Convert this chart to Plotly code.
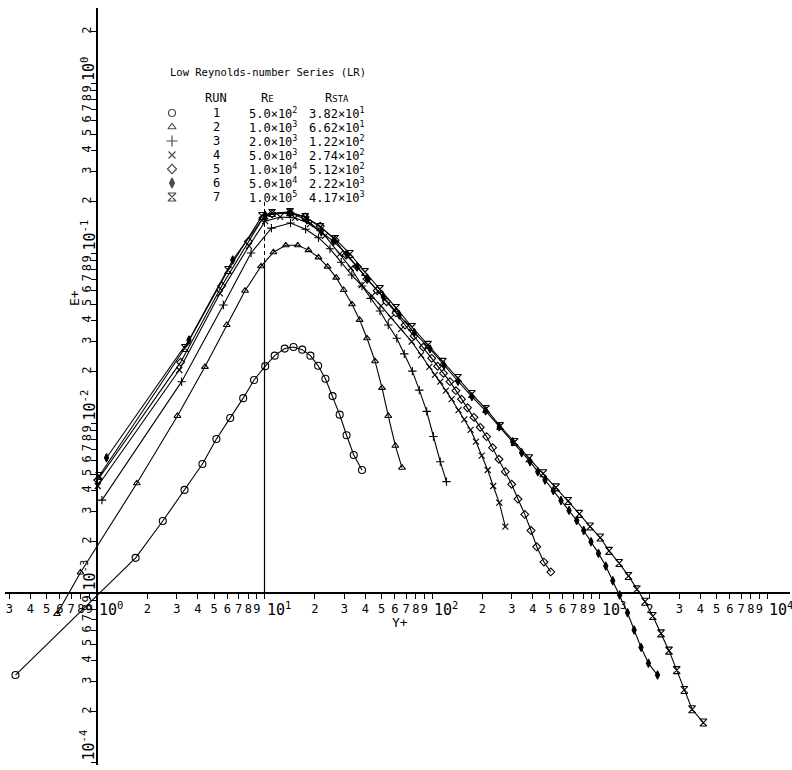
import plotly.graph_objects as go

# ---------------- data ----------------
RUNS = [1, 2, 3, 4, 5, 6, 7]
RE_TEXT = ["5.0×10<sup>2</sup>", "1.0×10<sup>3</sup>", "2.0×10<sup>3</sup>", "5.0×10<sup>3</sup>",
           "1.0×10<sup>4</sup>", "5.0×10<sup>4</sup>", "1.0×10<sup>5</sup>"]
RSTA_TEXT = ["3.82×10<sup>1</sup>", "6.62×10<sup>1</sup>", "1.22×10<sup>2</sup>", "2.74×10<sup>2</sup>",
             "5.12×10<sup>2</sup>", "2.22×10<sup>3</sup>", "4.17×10<sup>3</sup>"]

y1 = [0.326, 1.70, 2.47, 3.33, 4.26, 5.16, 6.24, 7.46, 8.66, 10.1, 11.5, 13.2, 14.9, 16.8, 18.8,
      20.9, 23.1, 25.5, 28.1, 30.9, 34.1, 38.2]
e1 = [3.29e-4, 1.61e-3, 2.65e-3, 4.04e-3, 5.74e-3, 8.05e-3, 1.07e-2, 1.40e-2, 1.79e-2, 2.16e-2,
      2.49e-2, 2.74e-2, 2.80e-2, 2.70e-2, 2.49e-2, 2.17e-2, 1.82e-2, 1.44e-2, 1.12e-2, 8.47e-3,
      6.48e-3, 5.29e-3]

y2 = [0.577, 0.797, 1.73, 3.02, 4.41, 5.95, 7.65, 9.53, 11.3, 13.4, 15.8, 18.3, 21.0, 23.8, 26.8,
      29.7, 33.3, 37.0, 40.9, 45.7, 50.3, 54.8, 60.4, 66.2]
e2 = [7.52e-4, 1.32e-3, 4.42e-3, 1.10e-2, 2.14e-2, 3.77e-2, 6.00e-2, 8.35e-2, 0.101, 0.111,
      0.111, 0.104, 0.0943, 0.0831, 0.0716, 0.0606, 0.0499, 0.0404, 0.0315, 0.0231,
      0.0161, 0.0110, 7.35e-3, 5.46e-3]

y3 = [1.07, 3.20, 5.68, 8.31, 11.0, 14.3, 17.6, 21.0, 24.6, 28.7, 33.2, 38.2, 43.1, 48.9, 54.8,
      61.6, 68.3, 76.3, 84.0, 93.0, 102, 112, 122]
e3 = [3.52e-3, 1.75e-2, 4.94e-2, 0.100, 0.140, 0.150, 0.138, 0.123, 0.106, 0.0882,
      0.0742, 0.0640, 0.0541, 0.0456, 0.0377, 0.0315, 0.0255, 0.0202, 0.0156, 0.0117,
      8.33e-3, 5.92e-3, 4.52e-3]

y4 = [1.01, 3.10, 5.42, 8.08, 10.1, 12.4, 15.2, 18.7, 23.0, 28.2, 32.8, 38.0, 43.8, 49.6, 56.9,
      65.3, 75.6, 86.0, 96.4, 104, 112, 121, 131, 144, 156, 170, 183, 198, 215, 232, 252, 274]
e4 = [4.26e-3, 2.05e-2, 5.79e-2, 0.110, 0.154, 0.163, 0.161, 0.148, 0.126, 0.0987,
      0.0816, 0.0648, 0.0559, 0.0488, 0.0417, 0.0357, 0.0301, 0.0251, 0.0214, 0.0192,
      0.0175, 0.0155, 0.0138, 0.0119, 0.0105, 9.10e-3, 7.76e-3, 6.42e-3, 5.29e-3, 4.26e-3,
      3.40e-3, 2.46e-3]

y5 = [1.01, 3.16, 5.55, 8.01, 9.80, 11.1, 14.2, 17.5, 21.5, 26.4, 30.7, 35.8, 40.9, 47.1, 53.6,
      61.0, 69.0, 78.1, 88.7, 99.6, 108, 117, 128, 139, 150, 163, 178, 194, 212, 230, 251, 274,
      299, 326, 358, 390, 422, 466, 512]
e5 = [4.62e-3, 2.28e-2, 6.40e-2, 0.117, 0.161, 0.170, 0.172, 0.163, 0.144, 0.119,
      0.0973, 0.0831, 0.0703, 0.0600, 0.0517, 0.0444, 0.0377, 0.0325, 0.0279, 0.0240,
      0.0216, 0.0196, 0.0175, 0.0155, 0.0138, 0.0123, 0.0108, 9.43e-3, 8.31e-3, 7.16e-3,
      6.12e-3, 5.17e-3, 4.36e-3, 3.57e-3, 2.90e-3, 2.33e-3, 1.87e-3, 1.52e-3, 1.33e-3]

y6 = [1.14, 3.54, 6.46, 10.1, 14.2, 17.9, 21.8, 25.8, 31.0, 35.7, 41.1, 51.2, 63.8, 78.4, 97.3,
      118, 143, 173, 209, 252, 303, 343, 385, 428, 473, 530, 589, 658, 731, 805, 890, 986, 1090,
      1200, 1320, 1470, 1610, 1770, 1960, 2220]
e6 = [6.25e-3, 3.08e-2, 9.10e-2, 0.167, 0.173, 0.156, 0.133, 0.117, 0.0984, 0.0827,
      0.0703, 0.0553, 0.0432, 0.0340, 0.0273, 0.0218, 0.0176, 0.0143, 0.0118, 9.51e-3,
      7.76e-3, 6.69e-3, 5.92e-3, 5.17e-3, 4.62e-3, 4.00e-3, 3.50e-3, 3.06e-3, 2.67e-3, 2.33e-3,
      2.00e-3, 1.71e-3, 1.44e-3, 1.18e-3, 9.73e-4, 7.66e-4, 6.06e-4, 4.79e-4, 3.86e-4, 3.29e-4]

y7 = [1.03, 3.35, 6.06, 9.66, 11.1, 14.2, 17.5, 21.5, 26.4, 32.4, 39.8, 48.9, 61.0, 76.0, 94.7,
      116, 143, 173, 210, 255, 311, 381, 462, 550, 651, 758, 878, 1010, 1140, 1310, 1490, 1670,
      1870, 2080, 2330, 2600, 2890, 3210, 3570, 4170]
e7 = [4.88e-3, 2.76e-2, 7.94e-2, 0.165, 0.172, 0.174, 0.163, 0.142, 0.121, 0.0987,
      0.0773, 0.0614, 0.0475, 0.0367, 0.0288, 0.0229, 0.0184, 0.0148, 0.0121, 9.60e-3,
      7.73e-3, 6.20e-3, 5.06e-3, 4.18e-3, 3.48e-3, 2.92e-3, 2.46e-3, 2.12e-3, 1.77e-3, 1.50e-3,
      1.26e-3, 1.05e-3, 8.89e-4, 7.32e-4, 5.79e-4, 4.58e-4, 3.52e-4, 2.69e-4, 2.07e-4, 1.73e-4]

Y_RUNS = [y1, y2, y3, y4, y5, y6, y7]
E_RUNS = [e1, e2, e3, e4, e5, e6, e7]

# reference line at Y+ = 10
REF_Y = 10
REF_SOLID = [1e-3, 0.0886]
REF_DASH = [0.0886, 0.2]

# tick values
X_DECADES = [-1, 0, 1, 2, 3]
X_MIN_TICK = 0.3
Y_DECADES = [-4, -3, -2, -1, 0]
Y_MAX_TICK = 2.0

# ---------------- styling ----------------
W, H = 792, 770
FONT = "DejaVu Sans Mono"
SYMBOLS = ['circle-open', 'triangle-up-open', 'cross-thin-open', 'x-thin-open',
           'diamond-open', 'diamond-tall', 'hourglass-open']
SIZES = [7, 6, 6, 6, 6, 6, 7]

X_DOM = [5 / W, 790 / W]
Y_DOM = [(H - 765) / H, (H - 8) / H]
X_RANGE = [-0.5493, 4.1373]
Y_RANGE = [-4.0118, 0.4412]
X_AXIS_POS = (H - 593) / H
Y_AXIS_POS = 97 / W

fig = go.Figure()

for i, run in enumerate(RUNS):
    fig.add_trace(go.Scatter(
        x=Y_RUNS[i], y=E_RUNS[i], mode='lines+markers', showlegend=False,
        line=dict(color='black', width=1.1),
        marker=dict(symbol=SYMBOLS[i], size=SIZES[i], color='black',
                    line=dict(color='black', width=1.1)),
    ))

fig.add_trace(go.Scatter(x=[REF_Y, REF_Y], y=REF_SOLID, mode='lines', showlegend=False,
                         line=dict(color='black', width=1.2)))
fig.add_trace(go.Scatter(x=[REF_Y, REF_Y], y=REF_DASH, mode='lines', showlegend=False,
                         line=dict(color='black', width=1, dash='4px,3px')))

# legend glyphs on an auxiliary (hidden) subplot whose y units are run numbers
ROW0_PX, ROW_STEP = 113, 14.0
LEG_SYM_X, LEG_RUN_X, LEG_RE_X, LEG_RSTA_X = 172, 216, 273, 337
fig.add_trace(go.Scatter(
    x=[LEG_SYM_X] * len(RUNS), y=RUNS, mode='markers', showlegend=False,
    xaxis='x2', yaxis='y2',
    marker=dict(symbol=SYMBOLS, size=[7, 7, 8, 7, 7, 7, 8], color='black',
                line=dict(color='black', width=1.2)),
))

# ticks
xtv, xtt = [], []
for d in X_DECADES:
    for m in range(1, 10):
        v = m * 10.0 ** d
        if v < X_MIN_TICK - 1e-9:
            continue
        xtv.append(v)
        xtt.append("" if m == 1 else str(m))
xtv.append(1e4)
xtt.append("")

ytv, ytt = [], []
for d in Y_DECADES:
    for m in range(1, 10):
        v = m * 10.0 ** d
        if v > Y_MAX_TICK + 1e-9:
            continue
        ytv.append(v)
        ytt.append("" if m == 1 else str(m))

fig.update_layout(
    width=W, height=H, margin=dict(l=0, r=0, t=0, b=0),
    paper_bgcolor='white', plot_bgcolor='rgba(0,0,0,0)',
    font=dict(family=FONT, color='black', size=12),
    showlegend=False,
    xaxis=dict(type='log', range=X_RANGE, domain=X_DOM, anchor='free', position=X_AXIS_POS,
               showline=True, linecolor='black', linewidth=1.5, ticks='outside', ticklen=5,
               tickwidth=1, tickcolor='black', tickvals=xtv, ticktext=xtt, tickangle=0,
               tickfont=dict(family=FONT, size=12), showgrid=False, zeroline=False),
    yaxis=dict(type='log', range=Y_RANGE, domain=Y_DOM, anchor='free', position=Y_AXIS_POS,
               showline=True, linecolor='black', linewidth=1.5, ticks='outside', ticklen=5,
               tickwidth=1, tickcolor='black', tickvals=ytv, ticktext=ytt, tickangle=-90,
               ticklabelstandoff=-5,
               tickfont=dict(family=FONT, size=12), showgrid=False, zeroline=False),
    xaxis2=dict(range=[0, W], domain=[0, 1], anchor='y2', visible=False, fixedrange=True),
    yaxis2=dict(range=[1 + (H - ROW0_PX) / ROW_STEP, 1 - ROW0_PX / ROW_STEP], domain=[0, 1],
                anchor='x2', visible=False, fixedrange=True),
)

ann = []
for d in [0, 1, 2, 3, 4]:
    ann.append(dict(x=d, y=X_AXIS_POS, xref='x', yref='paper', text=f"10<sup>{d}</sup>",
                    showarrow=False, xanchor='left', yanchor='top', xshift=0, yshift=-4,
                    font=dict(size=15, family=FONT)))
for d in Y_DECADES:
    ann.append(dict(x=Y_AXIS_POS, y=d, xref='paper', yref='y', text=f"10<sup>{d}</sup>",
                    showarrow=False, xanchor='center', yanchor='bottom', xshift=-9, yshift=0,
                    textangle=-90, font=dict(size=15, family=FONT)))

ann.append(dict(x=400 / W, y=(H - 622) / H, xref='paper', yref='paper', text="Y+",
                xanchor='center', yanchor='middle',
                showarrow=False, font=dict(size=13, family=FONT)))
ann.append(dict(x=74 / W, y=(H - 298) / H, xref='paper', yref='paper', text="E+",
                xanchor='center', yanchor='middle',
                showarrow=False, textangle=-90, font=dict(size=13, family=FONT)))

ann.append(dict(x=168 / W, y=(H - 72) / H, xref='paper', yref='paper',
                text="Low Reynolds-number Series (LR)", showarrow=False,
                xanchor='left', yanchor='middle',
                font=dict(size=10.5, family=FONT)))
SMALL = "<span style='font-size:9px'>{}</span>"
for xx, t in [(LEG_RUN_X, "RUN"), (LEG_RE_X - 6, "R" + SMALL.format("E")),
              (LEG_RSTA_X, "R" + SMALL.format("STA"))]:
    ann.append(dict(x=xx, y=RUNS[0] - 1.1, xref='x2', yref='y2', text=t, showarrow=False,
                    xanchor='center', yanchor='middle', font=dict(size=12, family=FONT)))
for i, run in enumerate(RUNS):
    ann.append(dict(x=LEG_RUN_X, y=run, xref='x2', yref='y2', text=str(run), showarrow=False,
                    xanchor='center', yanchor='middle', font=dict(size=12, family=FONT)))
    ann.append(dict(x=LEG_RE_X, y=run, xref='x2', yref='y2', text=RE_TEXT[i], showarrow=False,
                    xanchor='center', yanchor='middle', font=dict(size=12, family=FONT)))
    ann.append(dict(x=LEG_RSTA_X, y=run, xref='x2', yref='y2', text=RSTA_TEXT[i],
                    xanchor='center', yanchor='middle',
                    showarrow=False, font=dict(size=12, family=FONT)))

fig.update_layout(annotations=ann)
fig.write_html("out.html")
